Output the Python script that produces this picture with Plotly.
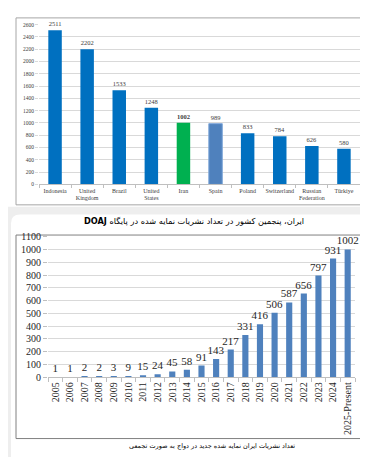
import plotly.graph_objects as go

# ---------------- data ----------------
countries = ["Indonesia", "United<br>Kingdom", "Brazil", "United<br>States", "Iran",
             "Spain", "Poland", "Switzerland", "Russian<br>Federation", "Türkiye"]
journals = [2511, 2202, 1533, 1248, 1002, 989, 833, 784, 626, 580]

years = ["2005", "2006", "2007", "2008", "2009", "2010", "2011", "2012", "2013", "2014",
         "2015", "2016", "2017", "2018", "2019", "2020", "2021", "2022", "2023", "2024",
         "2025-Present"]
cumulative = [1, 1, 2, 2, 3, 9, 15, 24, 45, 58, 91, 143, 217, 331, 416, 506, 587, 656,
              797, 931, 1002]

top_ticks = list(range(0, 2601, 200))
bottom_ticks = list(range(0, 1101, 100))

caption1 = "<b>DOAJ</b> ایران، پنجمین کشور در تعداد نشریات نمایه شده در پایگاه"
caption2 = "تعداد نشریات ایران نمایه شده جدید در دواج به صورت تجمعی"

SERIF = "Liberation Serif, Times New Roman, serif"

# ---------------- layout helpers ----------------
W, H = 368, 457
def px(x): return x / W
def py(y): return 1 - y / H

def rounded(x0, y0, x1, y1, r):
    rx, ry = r / W, r / H
    X0, X1 = px(x0), px(x1)
    Y0, Y1 = py(y0), py(y1)
    return (f"M{X0+rx},{Y0} L{X1-rx},{Y0} Q{X1},{Y0} {X1},{Y0-ry} "
            f"L{X1},{Y1+ry} Q{X1},{Y1} {X1-rx},{Y1} L{X0+rx},{Y1} "
            f"Q{X0},{Y1} {X0},{Y1+ry} L{X0},{Y0-ry} Q{X0},{Y0} {X0+rx},{Y0} Z")

colors_top = []
for c in countries:
    if c == "Iran":
        colors_top.append("#00B050")
    elif c == "Spain":
        colors_top.append("#4F81BD")
    else:
        colors_top.append("#0070C0")
line_top = ["#7FA7D9" if c == "Spain" else "rgba(0,0,0,0)" for c in countries]
text_top = [f"<b>{v}</b>" if c == "Iran" else str(v) for c, v in zip(countries, journals)]

fig = go.Figure()

fig.add_trace(go.Bar(
    x=countries, y=journals, xaxis="x", yaxis="y",
    marker=dict(color=colors_top, line=dict(color=line_top, width=1)),
    width=0.42,
    text=text_top, textposition="outside", cliponaxis=False,
    constraintext="none",
    textfont=dict(family=SERIF, size=6.5, color="#404040"),
    hoverinfo="skip",
))

fig.add_trace(go.Bar(
    x=years, y=cumulative, xaxis="x2", yaxis="y2",
    marker=dict(color="#4F81BD", line=dict(width=0)),
    width=0.42,
    text=[str(v) for v in cumulative], textposition="outside", cliponaxis=False,
    constraintext="none",
    textfont=dict(family=SERIF, size=11, color="#262626"),
    hoverinfo="skip",
))

shapes = [
    dict(type="path", xref="paper", yref="paper", path=rounded(-10, -10, 362, 198, 9),
         fillcolor="white", line=dict(width=0), layer="below"),
    dict(type="path", xref="paper", yref="paper", path=rounded(3, 206, 366, 470, 9),
         fillcolor="white", line=dict(width=0), layer="below"),
    dict(type="rect", xref="paper", yref="paper", x0=px(8), x1=px(358), y0=py(196), y1=py(4),
         line=dict(color="#A6A6A6", width=1), fillcolor="rgba(0,0,0,0)", layer="below"),
    dict(type="rect", xref="paper", yref="paper", x0=px(8), x1=px(358), y0=py(436), y1=py(227),
         line=dict(color="#808080", width=1), fillcolor="rgba(0,0,0,0)", layer="below"),
]

fig.update_layout(
    width=W, height=H,
    margin=dict(l=0, r=0, t=0, b=0),
    paper_bgcolor="#EEEEEE",
    plot_bgcolor="rgba(0,0,0,0)",
    showlegend=False,
    shapes=shapes,
    xaxis=dict(
        domain=[px(31), px(352)], anchor="y",
        tickfont=dict(family=SERIF, size=6, color="#404040"),
        showgrid=False, showline=True, linecolor="#BFBFBF", linewidth=1,
        ticks="outside", tickson="boundaries", ticklen=3, tickcolor="#BFBFBF",
        tickangle=0, fixedrange=True,
    ),
    yaxis=dict(
        domain=[py(175), py(11)], anchor="x",
        range=[0, 2600], tickvals=top_ticks,
        tickfont=dict(family=SERIF, size=5.5, color="#404040"),
        showgrid=True, gridcolor="#D9D9D9", gridwidth=1,
        zeroline=False, showline=False,
        ticks="outside", ticklen=3, tickcolor="#D9D9D9", fixedrange=True,
    ),
    xaxis2=dict(
        domain=[px(40), px(347)], anchor="y2",
        tickfont=dict(family=SERIF, size=10, color="#262626"),
        showgrid=False, showline=True, linecolor="#BFBFBF", linewidth=1,
        ticks="outside", tickson="boundaries", ticklen=4, tickcolor="#BFBFBF",
        tickangle=-90, fixedrange=True,
    ),
    yaxis2=dict(
        domain=[py(373), py(229)], anchor="x2",
        range=[0, 1100], tickvals=bottom_ticks,
        tickfont=dict(family=SERIF, size=10, color="#262626"),
        showgrid=True, gridcolor="#D9D9D9", gridwidth=1,
        zeroline=False, showline=False,
        ticks="outside", ticklen=4, tickcolor="#BFBFBF", fixedrange=True,
    ),
    annotations=[
        dict(text=caption1, xref="paper", yref="paper", x=px(186), y=py(213),
             xanchor="center", yanchor="middle", showarrow=False,
             font=dict(family="DejaVu Sans", size=8.2, color="#000000")),
        dict(text=caption2, xref="paper", yref="paper", x=px(204), y=py(444),
             xanchor="center", yanchor="middle", showarrow=False,
             font=dict(family="DejaVu Sans", size=6.5, color="#000000")),
    ],
)

fig.write_html("out.html")
